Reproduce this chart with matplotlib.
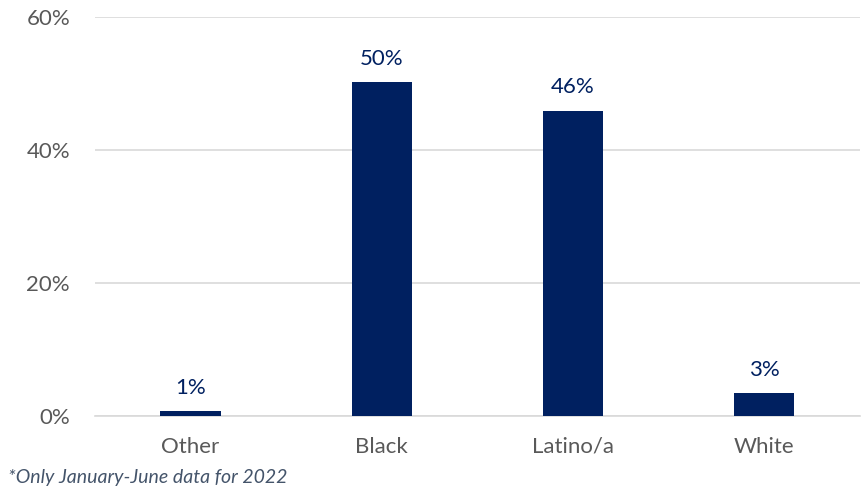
import matplotlib.pyplot as plt
from matplotlib.ticker import FuncFormatter

groups = ["Other", "Black", "Latino/a", "White"]
shares = [0.7, 50.2, 45.9, 3.4]
y_ticks = [0, 20, 40, 60]

navy = "#002060"
grey_text = "#595959"

plt.rcParams['font.family'] = ['Lato', 'DejaVu Sans']

fig = plt.figure(figsize=(8.66, 4.9), dpi=100)
ax = fig.add_axes([0.1097, 0.151, 0.8833, 0.8143])

x = range(len(groups))
bars = ax.bar(x, shares, width=0.315, color=navy, zorder=3)
for b, v in zip(bars, shares):
    ax.text(b.get_x() + b.get_width() / 2, v + 2.0, f"{round(v):.0f}%",
            ha="center", va="bottom", fontsize=16, color=navy)

ax.set_xlim(-0.5, len(groups) - 0.5)
ax.set_ylim(0, 60)
ax.set_yticks(y_ticks)
ax.yaxis.set_major_formatter(FuncFormatter(lambda v, p: f"{v:.0f}%"))
ax.set_xticks(list(x))
ax.set_xticklabels(groups)
ax.tick_params(axis="both", length=0, labelsize=16, colors=grey_text)
ax.tick_params(axis="y", pad=18)
ax.tick_params(axis="x", pad=15)

ax.grid(axis="y", color="#d9d9d9", linewidth=1.2, zorder=0)
for s in ["top", "right", "left"]:
    ax.spines[s].set_visible(False)
ax.spines["bottom"].set_color("#d9d9d9")
ax.spines["bottom"].set_linewidth(1.2)

fig.text(0.009, 0.008, "*Only January-June data for 2022", fontsize=14,
         style="italic", color="#44546A", ha="left", va="bottom")

fig.savefig("out.png", dpi=100)
